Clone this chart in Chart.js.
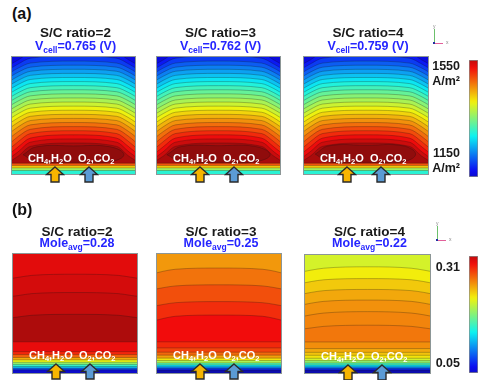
<!DOCTYPE html>
<html><head><meta charset="utf-8">
<script src="https://cdn.jsdelivr.net/npm/chart.js@4.4.1/dist/chart.umd.min.js"></script>
<style>
html,body{margin:0;padding:0;background:#fff;}
#root{position:relative;width:479px;height:380px;overflow:hidden;font-family:"Liberation Sans",Arial,sans-serif;}
.pnl{position:absolute;outline:1px solid #8c9696;}
.pnl canvas{display:block;}
.tx{position:absolute;white-space:nowrap;font-weight:bold;line-height:1;}
.ttl{font-size:13.5px;color:#1a1a1a;text-align:center;width:160px;}
.val{font-size:12.5px;color:#2525ff;text-align:center;width:160px;}
.val sub{font-size:8.5px;vertical-align:-3px;line-height:0;}
.gas{font-size:11px;color:#fff;}
.gas sub{font-size:7.5px;vertical-align:-2px;line-height:0;}
.lab{font-size:16px;color:#111;}
.cb{position:absolute;}
.arrow{position:absolute;}
.triad{position:absolute;}
</style></head><body><div id="root"></div>
<script>
// ================= DATA =================
const contourX = [0, 0.05, 0.15, 0.5, 0.85, 0.95, 1];
const scRatios = [2, 3, 4];
const cellVoltages = [0.765, 0.762, 0.759];
const moleAverages = [0.28, 0.25, 0.22];
const currentRange = [1075, 1615];
const currentTicks = [1150, 1550];
const moleRange = [0.023, 0.342];
const moleTicks = [0.05, 0.31];

// (a) current density contours, S/C = 2
const a1Levels = [1140,1160,1180,1200,1220,1240,1260,1280,1300,1320,1340,1360,1380,1400,1420,1440,1460,1480,1500,1520,1540,1560,1580];
const a1Center = [1.06,1.01,0.965,0.93,0.895,0.86,0.825,0.79,0.755,0.72,0.685,0.65,0.615,0.58,0.545,0.51,0.475,0.44,0.405,0.37,0.335,0.30,0.265];
const a1Mid    = [1.035,0.99,0.948,0.913,0.878,0.843,0.808,0.773,0.738,0.703,0.668,0.633,0.598,0.563,0.528,0.493,0.457,0.42,0.382,0.346,0.307,0.272,0.236];
const a1Near   = [0.975,0.94,0.905,0.87,0.835,0.80,0.765,0.73,0.695,0.66,0.624,0.588,0.552,0.516,0.48,0.442,0.403,0.362,0.32,0.276,0.232,0.19,0.152];
const a1Wall   = [0.945,0.91,0.875,0.84,0.805,0.77,0.735,0.70,0.665,0.63,0.594,0.558,0.521,0.484,0.446,0.406,0.365,0.322,0.277,0.232,0.19,0.15,0.118];
const a1Peak = 1590;
const a1OvalLevel = 1605;
const a1OvalX = [0.09,0.2,0.5,0.8,0.91,0.8,0.5,0.2,0.09];
const a1OvalY = [0.165,0.232,0.24,0.232,0.165,0.105,0.1,0.105,0.165];
const a1LowLevels = [1540,1470,1400,1330];
const a1LowY = [0.092,0.072,0.052,0.03];

// (a) S/C = 3
const a2Levels = [1140,1160,1180,1200,1220,1240,1260,1280,1300,1320,1340,1360,1380,1400,1420,1440,1460,1480,1500,1520,1540,1560,1580];
const a2Center = [1.06,1.01,0.965,0.93,0.895,0.86,0.825,0.79,0.755,0.72,0.685,0.65,0.615,0.58,0.545,0.51,0.475,0.44,0.405,0.37,0.335,0.30,0.265];
const a2Mid    = [1.035,0.99,0.948,0.913,0.878,0.843,0.808,0.773,0.738,0.703,0.668,0.633,0.598,0.563,0.528,0.493,0.457,0.42,0.382,0.346,0.307,0.272,0.236];
const a2Near   = [0.975,0.94,0.905,0.87,0.835,0.80,0.765,0.73,0.695,0.66,0.624,0.588,0.552,0.516,0.48,0.442,0.403,0.362,0.32,0.276,0.232,0.19,0.152];
const a2Wall   = [0.945,0.91,0.875,0.84,0.805,0.77,0.735,0.70,0.665,0.63,0.594,0.558,0.521,0.484,0.446,0.406,0.365,0.322,0.277,0.232,0.19,0.15,0.118];
const a2Peak = 1590;
const a2OvalLevel = 1605;
const a2OvalX = [0.08,0.2,0.5,0.8,0.92,0.8,0.5,0.2,0.08];
const a2OvalY = [0.165,0.235,0.242,0.235,0.165,0.105,0.1,0.105,0.165];
const a2LowLevels = [1540,1470,1400,1330];
const a2LowY = [0.092,0.072,0.052,0.03];

// (a) S/C = 4
const a3Levels = [1140,1160,1180,1200,1220,1240,1260,1280,1300,1320,1340,1360,1380,1400,1420,1440,1460,1480,1500,1520,1540,1560,1580];
const a3Center = [1.06,1.01,0.965,0.93,0.895,0.86,0.825,0.79,0.755,0.72,0.685,0.65,0.615,0.58,0.545,0.51,0.475,0.44,0.405,0.37,0.335,0.30,0.265];
const a3Mid    = [1.035,0.99,0.948,0.913,0.878,0.843,0.808,0.773,0.738,0.703,0.668,0.633,0.598,0.563,0.528,0.493,0.457,0.42,0.382,0.346,0.307,0.272,0.236];
const a3Near   = [0.975,0.94,0.905,0.87,0.835,0.80,0.765,0.73,0.695,0.66,0.624,0.588,0.552,0.516,0.48,0.442,0.403,0.362,0.32,0.276,0.232,0.19,0.152];
const a3Wall   = [0.945,0.91,0.875,0.84,0.805,0.77,0.735,0.70,0.665,0.63,0.594,0.558,0.521,0.484,0.446,0.406,0.365,0.322,0.277,0.232,0.19,0.15,0.118];
const a3Peak = 1590;
const a3OvalLevel = 1605;
const a3OvalX = [0.09,0.2,0.5,0.8,0.9,0.8,0.5,0.2,0.09];
const a3OvalY = [0.17,0.24,0.245,0.24,0.17,0.105,0.1,0.105,0.17];
const a3LowLevels = [1540,1470,1400,1330];
const a3LowY = [0.092,0.072,0.052,0.03];

// (b) mole fraction contours, S/C = 2
const b1Levels = [0.31, 0.315, 0.32];
const b1Center = [0.83, 0.676, 0.493];
const b1Mid    = [0.82, 0.667, 0.485];
const b1Near   = [0.805, 0.652, 0.472];
const b1Wall   = [0.797, 0.645, 0.465];
const b1Peak = 0.326;
const b1LowLevels = [0.310, 0.301, 0.285, 0.259, 0.234, 0.205, 0.173, 0.141, 0.106, 0.068];
const b1LowY      = [0.262, 0.18, 0.155, 0.13, 0.11, 0.09, 0.072, 0.055, 0.04, 0.027];

// (b) S/C = 3
const b2Levels = [0.26, 0.273, 0.285, 0.296];
const b2Center = [0.882, 0.741, 0.60, 0.487];
const b2Mid    = [0.872, 0.732, 0.591, 0.477];
const b2Near   = [0.855, 0.717, 0.576, 0.458];
const b2Wall   = [0.842, 0.707, 0.566, 0.445];
const b2Peak = 0.302;
const b2LowLevels = [0.297, 0.288, 0.278, 0.262, 0.240, 0.214, 0.183, 0.151, 0.119, 0.087, 0.055];
const b2LowY      = [0.262, 0.211, 0.175, 0.15, 0.125, 0.105, 0.085, 0.068, 0.052, 0.038, 0.025];

// (b) S/C = 4
const b3Levels = [0.218, 0.230, 0.243, 0.253, 0.259, 0.262];
const b3Center = [0.90, 0.80, 0.708, 0.618, 0.52, 0.405];
const b3Mid    = [0.888, 0.79, 0.698, 0.607, 0.508, 0.395];
const b3Near   = [0.872, 0.775, 0.683, 0.592, 0.493, 0.382];
const b3Wall   = [0.862, 0.765, 0.673, 0.582, 0.483, 0.375];
const b3Peak = 0.265;
const b3LowLevels = [0.261, 0.253, 0.243, 0.234, 0.221, 0.202, 0.176, 0.151, 0.119, 0.087, 0.055];
const b3LowY      = [0.263, 0.207, 0.175, 0.15, 0.125, 0.105, 0.085, 0.068, 0.052, 0.038, 0.025];

// ================= ASSEMBLY =================
const panelsA = [
  {up:{lv:a1Levels,c:a1Center,m:a1Mid,n:a1Near,w:a1Wall}, peak:a1Peak, oval:{x:a1OvalX,y:a1OvalY,inner:a1OvalLevel}, low:{lv:a1LowLevels,y:a1LowY}},
  {up:{lv:a2Levels,c:a2Center,m:a2Mid,n:a2Near,w:a2Wall}, peak:a2Peak, oval:{x:a2OvalX,y:a2OvalY,inner:a2OvalLevel}, low:{lv:a2LowLevels,y:a2LowY}},
  {up:{lv:a3Levels,c:a3Center,m:a3Mid,n:a3Near,w:a3Wall}, peak:a3Peak, oval:{x:a3OvalX,y:a3OvalY,inner:a3OvalLevel}, low:{lv:a3LowLevels,y:a3LowY}}
];
const panelsB = [
  {up:{lv:b1Levels,c:b1Center,m:b1Mid,n:b1Near,w:b1Wall}, peak:b1Peak, low:{lv:b1LowLevels,y:b1LowY}},
  {up:{lv:b2Levels,c:b2Center,m:b2Mid,n:b2Near,w:b2Wall}, peak:b2Peak, low:{lv:b2LowLevels,y:b2LowY}},
  {up:{lv:b3Levels,c:b3Center,m:b3Mid,n:b3Near,w:b3Wall}, peak:b3Peak, low:{lv:b3LowLevels,y:b3LowY}}
];

// layout (pixels)
const boxA = [{l:12,t:57,w:123,h:117},{l:157,t:57,w:123,h:117},{l:304,t:57,w:124,h:117}];
const boxB = [{l:13,t:254,w:124,h:119},{l:157,t:254,w:124,h:119},{l:305,t:255,w:125,h:118}];

function c01(v){return Math.max(0,Math.min(1,v));}
function rainbow(t){
  t=c01(t);
  const r=c01(1.5-Math.abs(4*t-3)), g=c01(1.5-Math.abs(4*t-2)), b=c01(1.5-Math.abs(4*t-1));
  const m=v=>Math.round(v*255*0.9+12);
  return 'rgb('+m(r)+','+m(g)+','+m(b)+')';
}
const lineColor='rgba(20,20,20,0.45)';
function lineDs(data, fill, color, order){
  return {data, fill, backgroundColor:color, borderColor:lineColor, borderWidth:0.6, pointRadius:0,
          cubicInterpolationMode:'monotone', order, clip:0};
}
function buildDatasets(p, range){
  const col = v => rainbow((v-range[0])/(range[1]-range[0]));
  const ds=[]; const U=p.up;
  U.lv.forEach((lv,i)=>{
    const above = i>0 ? (U.lv[i-1]+lv)/2 : lv-(U.lv[1]-lv)/2;
    const ys=[U.w[i],U.n[i],U.m[i],U.c[i],U.m[i],U.n[i],U.w[i]];
    ds.push(lineDs(contourX.map((x,k)=>({x,y:ys[k]})),'end',col(above),i));
  });
  const L=p.low;
  L.lv.forEach((lv,j)=>{
    const below = j<L.lv.length-1 ? (lv+L.lv[j+1])/2 : lv-(L.lv[j-1]-lv)/2;
    ds.push(lineDs([{x:0,y:L.y[j]},{x:1,y:L.y[j]}],'start',col(below),150-j));
  });
  if(p.oval){
    const o=lineDs(p.oval.x.map((x,k)=>({x,y:p.oval.y[k]})),'shape',col(p.oval.inner),-1);
    o.cubicInterpolationMode='default'; o.tension=0.45;
    ds.push(o);
  }
  return ds;
}
const bgPlugin={id:'fieldBg',beforeDraw(chart,args,opts){
  const {ctx,chartArea:a}=chart; ctx.save(); ctx.fillStyle=opts.color;
  ctx.fillRect(a.left,a.top,a.right-a.left,a.bottom-a.top); ctx.restore();}};

const root=document.getElementById('root');
function el(tag,cls,style,html){const e=document.createElement(tag); if(cls)e.className=cls; Object.assign(e.style,style); if(html!==undefined)e.innerHTML=html; root.appendChild(e); return e;}

function drawPanel(box,p,range){
  const wrap=el('div','pnl',{left:box.l+'px',top:box.t+'px',width:box.w+'px',height:box.h+'px'});
  const cv=document.createElement('canvas'); cv.width=box.w; cv.height=box.h; wrap.appendChild(cv);
  const col = v => rainbow((v-range[0])/(range[1]-range[0]));
  new Chart(cv,{type:'line',data:{datasets:buildDatasets(p,range)},
    options:{responsive:false,animation:false,events:[],devicePixelRatio:1,layout:{padding:0},
      scales:{x:{type:'linear',min:0,max:1,display:false},y:{type:'linear',min:0,max:1,display:false}},
      plugins:{legend:{display:false},tooltip:{enabled:false},filler:{drawTime:'beforeDatasetsDraw',propagate:false},fieldBg:{color:col(p.peak)}},
      elements:{point:{radius:0,hoverRadius:0},line:{capBezierPoints:false}}},
    plugins:[bgPlugin]});
  el('div','tx gas',{left:(box.l+16)+'px',top:(box.t+96)+'px'},'CH<sub>4</sub>,H<sub>2</sub>O&nbsp;&nbsp;O<sub>2</sub>,CO<sub>2</sub>');
  const arr=(cx,fillc)=>el('div','arrow',{left:(cx-10)+'px',top:(box.t+109)+'px',width:'20px',height:'17px'},
    '<svg width="20" height="17" viewBox="0 0 20 17"><path d="M10 1 L18.5 8.5 L14 8.5 L14 16 L6 16 L6 8.5 L1.5 8.5 Z" fill="'+fillc+'" stroke="#2a2a2a" stroke-width="1.4"/></svg>');
  arr(box.l+43,'#f7b500'); arr(box.l+77,'#5b9bd5');
}

function colorbar(left,top,h,range,ticks,labelFn){
  const cv=document.createElement('canvas'); cv.width=479-left; cv.height=h; cv.className='cb';
  cv.style.left=left+'px'; cv.style.top=top+'px'; root.appendChild(cv);
  new Chart(cv,{type:'bar',data:{labels:[''],datasets:[{data:[[range[0],range[1]]],
      backgroundColor:(ctx)=>{const ch=ctx.chart; const a=ch.chartArea; if(!a) return '#888';
        const g=ch.ctx.createLinearGradient(0,a.bottom,0,a.top);
        for(let i=0;i<=40;i++) g.addColorStop(i/40,rainbow(0.08+0.85*i/40)); return g;},
      borderColor:'#8a8a8a',borderWidth:1,borderSkipped:false,barPercentage:1,categoryPercentage:1}]},
    options:{responsive:false,animation:false,events:[],devicePixelRatio:1,layout:{padding:{right:1,top:0,bottom:0,left:0}},
      scales:{x:{display:false},
        y:{position:'left',min:range[0],max:range[1],grid:{display:false,drawTicks:false},border:{display:false},
          afterBuildTicks:ax=>{ax.ticks=ticks.map(v=>({value:v}));},
          afterFit:ax=>{ax.width=cv.width-10; ax.paddingTop=0; ax.paddingBottom=0;},
          ticks:{padding:9,color:'#1a1a1a',font:{family:'Liberation Sans',weight:'bold',size:12.5},callback:labelFn}}},
      plugins:{legend:{display:false},tooltip:{enabled:false}}}});
}

panelsA.forEach((p,i)=>drawPanel(boxA[i],p,currentRange));
panelsB.forEach((p,i)=>drawPanel(boxB[i],p,moleRange));

el('div','tx lab',{left:'12px',top:'6px'},'(a)');
el('div','tx lab',{left:'12px',top:'202px'},'(b)');
boxA.forEach((b,i)=>{
  const cx=b.l+b.w/2+2;
  el('div','tx ttl',{left:(cx-80)+'px',top:'26px'},'S/C ratio='+scRatios[i]);
  el('div','tx val',{left:(cx-80)+'px',top:'40px'},'V<sub>cell</sub>='+cellVoltages[i].toFixed(3)+' (V)');
});
boxB.forEach((b,i)=>{
  const cx=b.l+b.w/2+2;
  el('div','tx ttl',{left:(cx-80)+'px',top:'225px'},'S/C ratio='+scRatios[i]);
  el('div','tx val',{left:(cx-80)+'px',top:'237px'},'Mole<sub>avg</sub>='+moleAverages[i].toFixed(2));
});

colorbar(420,60,117,currentRange,currentTicks,v=>[String(v),'A/m²']);
colorbar(420,256,117,moleRange,moleTicks,v=>Number(v).toFixed(2));

function triad(x,y){
  el('div','triad',{left:x+'px',top:y+'px',width:'1px',height:'14px',background:'#6cc06c'});
  el('div','triad',{left:x+'px',top:(y+14)+'px',width:'9px',height:'1px',background:'#e2609a'});
  el('div','triad',{left:(x-1)+'px',top:(y+13)+'px',width:'2px',height:'2px',background:'#2030a0'});
  el('div','tx',{left:(x-1)+'px',top:(y-5)+'px',fontSize:'5px',color:'#888',fontWeight:'normal'},'y');
  el('div','tx',{left:(x+12)+'px',top:(y+11)+'px',fontSize:'5px',color:'#888',fontWeight:'normal'},'x');
}
triad(434,29); triad(437,226);
</script></body></html>
